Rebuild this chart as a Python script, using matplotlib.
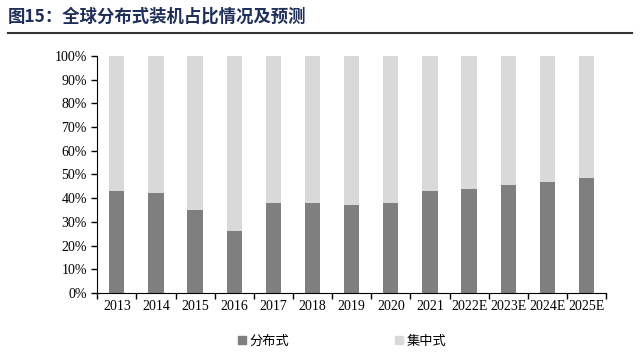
import numpy as np
import matplotlib.pyplot as plt
from matplotlib.lines import Line2D
from matplotlib.patches import Patch

# data (share of distributed PV, %)
years = ['2013', '2014', '2015', '2016', '2017', '2018', '2019', '2020',
         '2021', '2022E', '2023E', '2024E', '2025E']
distributed = [43, 42, 35, 26, 38, 38, 37, 38, 43, 44, 45.5, 47, 48.5]
centralized = [100 - d for d in distributed]

dark = '#7f7f7f'
light = '#d9d9d9'

fig = plt.figure(figsize=(6.4, 3.63), dpi=100)
ax = fig.add_axes([0.152, 0.193, 0.795, 0.653])

x = np.arange(len(years))
ax.bar(x, distributed, width=0.39, color=dark)
ax.bar(x, centralized, width=0.39, bottom=distributed, color=light)

ax.set_xlim(-0.5, len(years) - 0.5)
ax.set_ylim(0, 100)
ax.set_yticks(np.arange(0, 101, 10))
ax.set_yticklabels([str(v) + '%' for v in range(0, 101, 10)],
                   fontfamily='Liberation Serif', fontsize=10)
# ticks on the category boundaries, labels under the bars
ax.set_xticks(np.arange(-0.5, len(years), 1))
ax.set_xticklabels([])
ax.set_xticks(x, minor=True)
ax.set_xticklabels(years, minor=True, fontfamily='Liberation Serif', fontsize=10)
ax.tick_params(axis='x', which='minor', length=0, pad=5)
ax.tick_params(axis='x', which='major', length=4, direction='out', width=1)
ax.tick_params(axis='y', length=4, direction='out', width=1)
for s in ['top', 'right']:
    ax.spines[s].set_visible(False)
for s in ['left', 'bottom']:
    ax.spines[s].set_color('black')

# title and rule
fig.text(0.012, 0.953, '图15：全球分布式装机占比情况及预测', fontsize=12.5,
         fontweight='bold', color='#1f2f5a', va='center',
         fontfamily=['Noto Sans CJK SC', 'DejaVu Sans'])
fig.add_artist(Line2D([0.012, 0.988], [0.909, 0.909], color='#333333', lw=1.5))

handles = [Patch(color=dark), Patch(color=light)]
fig.legend(handles, ['分布式', '集中式'], loc='center', bbox_to_anchor=(0.535, 0.06),
           ncol=2, frameon=False, columnspacing=8, handlelength=0.6, handleheight=0.6,
           handletextpad=0.3, prop={'family': 'Noto Sans CJK SC', 'size': 9.5})

plt.savefig('out.png')
